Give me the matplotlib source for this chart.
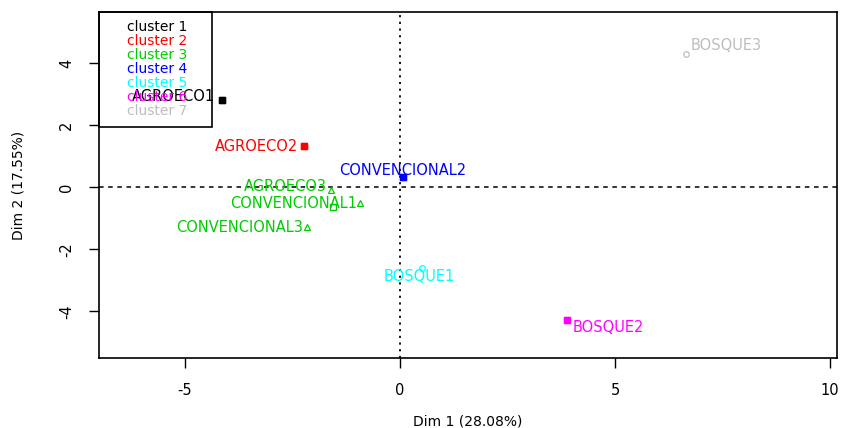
"""
Factor map of the hierarchical clustering on principal components
"""

import matplotlib
matplotlib.use("Agg")
import matplotlib.pyplot as plt
from matplotlib.lines import Line2D
import numpy as np

# Individuals on the first factorial plane
names = ["AGROECO1", "AGROECO2", "AGROECO3", "CONVENCIONAL1", "CONVENCIONAL2",
         "CONVENCIONAL3", "BOSQUE1", "BOSQUE2", "BOSQUE3"]
dim1 = [-4.14, -2.23, -1.60, -0.93, 0.07, -2.16, 0.51, 3.88, 6.65]
dim2 = [2.80, 1.32, -0.10, -0.52, 0.32, -1.29, -2.60, -4.29, 4.29]
cluster = [1, 2, 3, 3, 4, 3, 5, 6, 7]

cluster_names = ["cluster 1", "cluster 2", "cluster 3", "cluster 4",
                 "cluster 5", "cluster 6", "cluster 7"]
cluster_colors = ["black", "red", "#00CD00", "blue", "cyan", "magenta", "#BEBEBE"]

# label placement: (dx, dy) in points, ha
label_pos = {
    "AGROECO1": (-5, 3, "right"),
    "AGROECO2": (-4, 0, "right"),
    "AGROECO3": (-3, 3, "right"),
    "CONVENCIONAL1": (-2, 0, "right"),
    "CONVENCIONAL2": (0, 5, "center"),
    "CONVENCIONAL3": (-3, 0, "right"),
    "BOSQUE1": (-2, -6, "center"),
    "BOSQUE2": (4, -5, "left"),
    "BOSQUE3": (3, 6, "left"),
}

plt.rcParams["font.family"] = ["DejaVu Sans"]
plt.rcParams["axes.unicode_minus"] = False

fig = plt.figure(figsize=(8.41, 4.28), dpi=100)
ax = fig.add_axes([0.1177, 0.1636, 0.8775, 0.8084])

ax.axhline(0, color="black", linestyle=(0, (3, 3)), linewidth=1.1)
ax.axvline(0, color="black", linestyle=(0, (1.2, 2.5)), linewidth=1.3)

# individuals
markers = {3: "^", 5: "o", 7: "o"}
for x, y, c in zip(dim1, dim2, cluster):
    col = cluster_colors[c - 1]
    m = markers.get(c, "s")
    ax.plot(x, y, marker=m, markersize=4, color=col,
            markerfacecolor="none" if m != "s" else col,
            markeredgewidth=0.9, linestyle="none")

# cluster centres (only drawn for clusters with a square symbol)
for k in range(1, 8):
    if k in (5, 7):
        continue
    xs = [x for x, c in zip(dim1, cluster) if c == k]
    ys = [y for y, c in zip(dim2, cluster) if c == k]
    cx, cy = np.mean(xs), np.mean(ys)
    col = cluster_colors[k - 1]
    face = "none" if len(xs) > 1 else col
    ax.plot(cx, cy, marker="s", markersize=5, color=col,
            markerfacecolor=face, markeredgewidth=1.0, linestyle="none")

for name, x, y, c in zip(names, dim1, dim2, cluster):
    dx, dy, ha = label_pos[name]
    ax.annotate(name, (x, y), xytext=(dx, dy), textcoords="offset points",
                ha=ha, va="center", fontsize=10.5, color=cluster_colors[c - 1])

ax.set_xlim(-7.0, 10.16)
ax.set_ylim(-5.5, 5.65)
ax.set_xticks([-5, 0, 5, 10])
ax.set_yticks([-4, -2, 0, 2, 4])
ax.tick_params(direction="out", length=7, width=1, labelsize=10.5, pad=11)
for lab in ax.get_yticklabels():
    lab.set_rotation(90)
    lab.set_va("center")
for s in ax.spines.values():
    s.set_linewidth(1.2)

ax.set_xlabel("Dim 1 (28.08%)", fontsize=10, labelpad=12)
ax.set_ylabel("Dim 2 (17.55%)", fontsize=10, labelpad=24)

handles = [Line2D([], [], color=col, linestyle="none") for col in cluster_colors]
leg = ax.legend(handles, cluster_names, loc="upper left",
                bbox_to_anchor=(0, 0.6, 0.153, 0.4), mode="expand",
                handlelength=1.1, handletextpad=0.3,
                labelcolor=cluster_colors, fontsize=10,
                frameon=True, fancybox=False, borderaxespad=0,
                borderpad=0.6, labelspacing=0.0, edgecolor="black",
                facecolor="none", framealpha=1)
leg.get_frame().set_linewidth(1.2)

fig.savefig("out.png", dpi=100)
plt.close(fig)
